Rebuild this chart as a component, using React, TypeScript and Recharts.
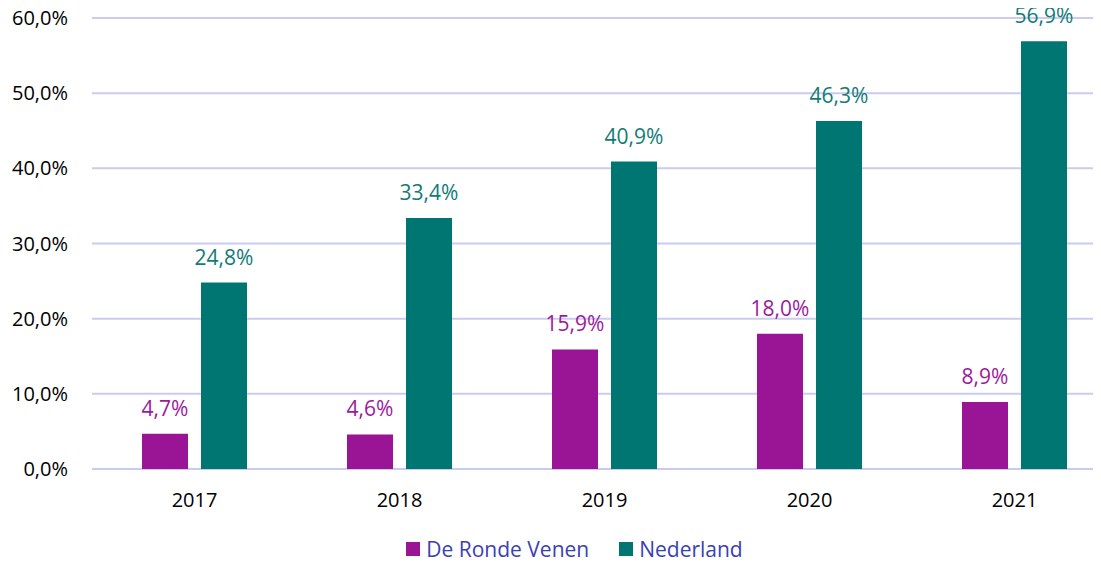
import React from "react";
import { BarChart, Bar, XAxis, YAxis, CartesianGrid, Legend, LabelList } from "recharts";

const years = ["2017", "2018", "2019", "2020", "2021"];
const rondeVenen = [4.7, 4.6, 15.9, 18.0, 8.9];
const nederland = [24.8, 33.4, 40.9, 46.3, 56.9];
const yTicks = [0, 10, 20, 30, 40, 50, 60];
const seriesNames = ["De Ronde Venen", "Nederland"];

const PURPLE = "#9A1596";
const TEAL = "#007672";
const FONT = "'Open Sans', 'Noto Sans', sans-serif";

const data = years.map((y, i) => ({ year: y, drv: rondeVenen[i], nl: nederland[i] }));

const fmt = (v: number) => v.toFixed(1).replace(".", ",") + "%";

const LegendContent = () => (
  <div
    style={{
      height: 30,
      display: "flex",
      justifyContent: "center",
      alignItems: "center",
      paddingLeft: 24,
      fontFamily: FONT,
      fontSize: 21,
      color: "#3A40B4",
    }}
  >
    {[PURPLE, TEAL].map((c, i) => (
      <div key={i} style={{ display: "flex", alignItems: "center", marginRight: i === 0 ? 30 : 0 }}>
        <div style={{ width: 14, height: 14, background: c, marginRight: 6 }} />
        <span>{seriesNames[i]}</span>
      </div>
    ))}
  </div>
);

export default function App() {
  return (
    <div style={{ width: 1093, height: 566, marginTop: -10, overflow: "hidden", position: "relative" }}>
      <BarChart
        width={1109}
        height={566}
        data={data}
        margin={{ top: 20, right: 0, bottom: 0, left: 0 }}
        barSize={46}
        barGap={13}
      >
        <CartesianGrid vertical={false} stroke="#CBCBEF" strokeWidth={2} />
        <XAxis
          dataKey="year"
          axisLine={false}
          tickLine={false}
          tickSize={0}
          tickMargin={24}
          height={65}
          tick={{ fill: "#000", fontSize: 20, fontFamily: FONT }}
        />
        <YAxis
          domain={[0, 60]}
          ticks={yTicks}
          axisLine={false}
          tickLine={false}
          tickSize={0}
          tickMargin={24}
          width={84}
          tickFormatter={fmt}
          tick={{ fill: "#000", fontSize: 20, fontFamily: FONT }}
        />
        <Legend verticalAlign="bottom" content={<LegendContent />} />
        <Bar dataKey="drv" name={seriesNames[0]} fill={PURPLE} isAnimationActive={false}>
          <LabelList
            dataKey="drv"
            position="top"
            offset={18}
            formatter={(v: any) => fmt(Number(v))}
            style={{ fill: "#9B1B9B", fontSize: 21, fontFamily: FONT }}
          />
        </Bar>
        <Bar dataKey="nl" name={seriesNames[1]} fill={TEAL} isAnimationActive={false}>
          <LabelList
            dataKey="nl"
            position="top"
            offset={18}
            formatter={(v: any) => fmt(Number(v))}
            style={{ fill: "#137B77", fontSize: 21, fontFamily: FONT }}
          />
        </Bar>
      </BarChart>
    </div>
  );
}
